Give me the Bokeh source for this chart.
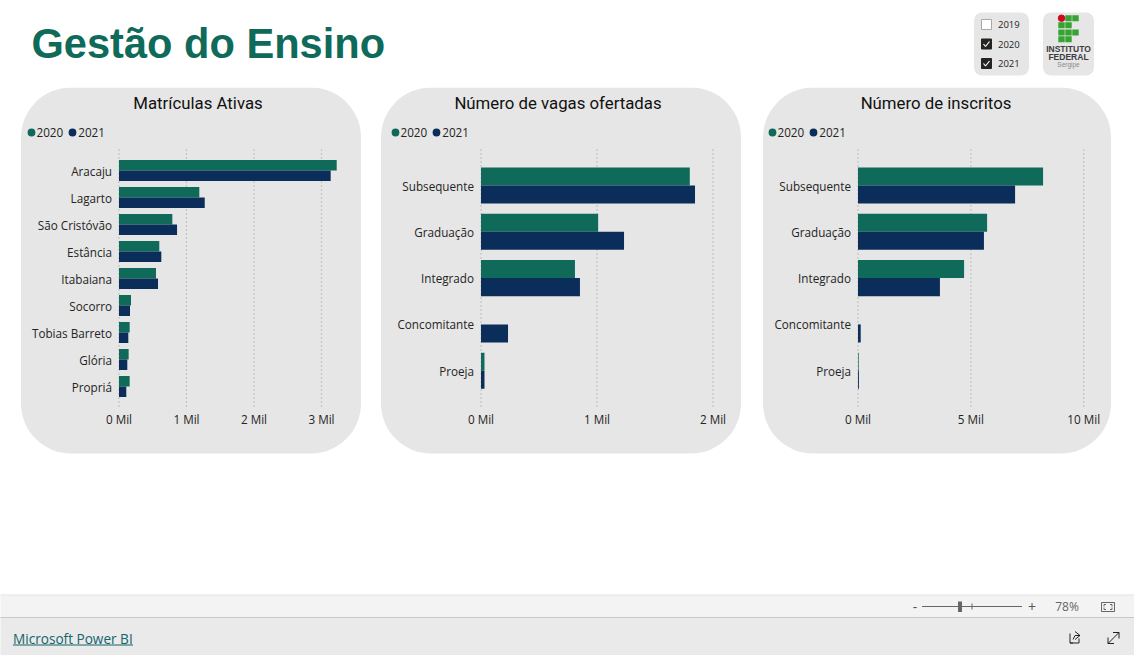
from bokeh.embed import file_html
from bokeh.resources import INLINE
from bokeh.plotting import figure
from bokeh.layouts import column, row
from bokeh.models import (BoxAnnotation, ColumnDataSource, FixedTicker, Label, Legend,
                          LegendItem, PrintfTickFormatter, Range1d)

TITLE = "Gestão do Ensino"
YEARS = ["2020", "2021"]
GREEN = "#0f6a5a"
NAVY = "#0a2d5a"
PANEL = "#e6e6e6"
TEXT = "#252423"

panel1_title = "Matrículas Ativas"
panel1_cats = ["Aracaju", "Lagarto", "São Cristóvão", "Estância", "Itabaiana", "Socorro", "Tobias Barreto", "Glória", "Propriá"]
panel1_2020 = [3.225, 1.19, 0.79, 0.597, 0.548, 0.178, 0.158, 0.143, 0.158]
panel1_2021 = [3.136, 1.27, 0.86, 0.627, 0.578, 0.163, 0.138, 0.123, 0.108]
panel1_ticks = [0, 1, 2, 3]

panel2_title = "Número de vagas ofertadas"
panel2_cats = ["Subsequente", "Graduação", "Integrado", "Concomitante", "Proeja"]
panel2_2020 = [1.80, 1.01, 0.81, 0.0, 0.03]
panel2_2021 = [1.845, 1.233, 0.853, 0.233, 0.03]
panel2_ticks = [0, 1, 2]

panel3_title = "Número de inscritos"
panel3_cats = ["Subsequente", "Graduação", "Integrado", "Concomitante", "Proeja"]
panel3_2020 = [8.2, 5.72, 4.70, 0.0, 0.03]
panel3_2021 = [6.96, 5.58, 3.63, 0.12, 0.04]
panel3_ticks = [0, 5, 10]

OFFX = 0.5
PANEL_TOP, PANEL_BOTTOM = 88, 456
GRID_TOP, GRID_BOTTOM = 150, 408


def panel(title, cats, v20, v21, ticks, fig_x, fig_w, box, zero_px, px_per_unit, first_cy, step, legend_x, title_cx):
    idx = list(range(len(cats)))
    x0 = fig_x + OFFX
    y_top = PANEL_TOP
    y_bot = PANEL_BOTTOM
    p = figure(width=fig_w, height=PANEL_BOTTOM - PANEL_TOP, output_backend="svg", toolbar_location=None,
               x_range=Range1d((x0 - zero_px) / px_per_unit, (x0 + fig_w - zero_px) / px_per_unit),
               y_range=Range1d((y_bot - first_cy) / step, (y_top - first_cy) / step),
               min_border=0, outline_line_color=None, border_fill_color="white", background_fill_color="white")
    p.extra_y_ranges = {"px": Range1d(y_bot, y_top)}
    p.add_layout(BoxAnnotation(left=box[0] - x0, right=box[1] - x0, top=0, bottom=366,
                               left_units="canvas", right_units="canvas", top_units="canvas", bottom_units="canvas",
                               fill_color=PANEL, fill_alpha=1, line_color=None, border_radius=50, level="image"))
    p.grid.visible = False
    p.segment(x0=ticks, x1=ticks, y0=[GRID_TOP] * len(ticks), y1=[GRID_BOTTOM] * len(ticks), y_range_name="px",
              line_color="#a4a4a4", line_dash="1 3", line_width=1.2)
    src = ColumnDataSource(dict(i20=[i - 0.195 for i in idx], i21=[i + 0.195 for i in idx], y2020=v20, y2021=v21))
    p.hbar(y="i20", right="y2020", left=0, height=0.39, source=src, fill_color=GREEN, line_color=None)
    p.hbar(y="i21", right="y2021", left=0, height=0.39, source=src, fill_color=NAVY, line_color=None)
    ax = p.xaxis[0]
    ax.ticker = FixedTicker(ticks=ticks)
    ax.formatter = PrintfTickFormatter(format="%d Mil")
    ax.fixed_location = (GRID_BOTTOM - first_cy) / step
    ay = p.yaxis[0]
    ay.ticker = FixedTicker(ticks=idx)
    ay.major_label_overrides = dict(zip(idx, cats))
    ay.fixed_location = 0
    for a in (ax, ay):
        a.axis_line_color = None
        a.major_tick_line_color = None
        a.minor_tick_line_color = None
        a.major_tick_out = 0
        a.major_tick_in = 0
        a.major_label_text_font = "Open Sans"
        a.major_label_text_font_size = "11.7px"
        a.major_label_text_color = TEXT
    ax.major_label_standoff = 3
    ay.major_label_standoff = 7
    d1 = p.scatter(x=[float("nan")], y=[0], size=5, fill_color=GREEN, line_color=GREEN, line_width=3)
    d2 = p.scatter(x=[float("nan")], y=[0], size=5, fill_color=NAVY, line_color=NAVY, line_width=3)
    leg = Legend(items=[LegendItem(label=YEARS[0], renderers=[d1]), LegendItem(label=YEARS[1], renderers=[d2])],
                 orientation="horizontal", location=(legend_x - x0, y_bot - 141),
                 background_fill_alpha=0, border_line_color=None, padding=0, margin=0, spacing=3,
                 glyph_width=12, glyph_height=12, label_standoff=0,
                 label_text_font="Open Sans", label_text_font_size="11.7px", label_text_color=TEXT)
    p.add_layout(leg, "center")
    p.add_layout(Label(x=title_cx - x0, y=15, x_units="canvas", y_units="canvas", text=title, text_align="center",
                       text_baseline="middle", text_font="Roboto", text_font_size="16.8px", text_color="#111111"))
    return p


def chrome(x0, x1, y0, y1):
    p = figure(width=x1 - x0, height=y1 - y0, output_backend="svg", toolbar_location=None,
               x_range=Range1d(x0 + OFFX, x1 + OFFX), y_range=Range1d(y1, y0), x_axis_type=None, y_axis_type=None,
               min_border=0, outline_line_color=None, border_fill_color="white", background_fill_color="white")
    p.grid.visible = False
    return p


def rbox(p, l, r, t, b, color, radius):
    p.add_layout(BoxAnnotation(left=l, right=r, top=t, bottom=b, fill_color=color, fill_alpha=1, line_color=None,
                               border_radius=radius, level="image"))


# ---- header ----
head = chrome(0, 1134, 1, 88)
head.text(x=[31.5], y=[44], text=[TITLE], text_font={"value": "Liberation Sans"}, text_font_style="bold", text_font_size="41.6px",
          text_color=GREEN, text_baseline="middle")
rbox(head, 974, 1029, 13, 76, PANEL, 8)
rbox(head, 1043, 1094, 13, 76, PANEL, 8)
slicer_years = ["2019", "2020", "2021"]
slicer_on = [False, True, True]
slicer_y = [25, 44.5, 64]
for yr, on, yy in zip(slicer_years, slicer_on, slicer_y):
    head.quad(left=[981.5], right=[991.5], top=[yy - 5], bottom=[yy + 5], fill_color=TEXT if on else "white",
              line_color=TEXT if on else "#a8a8a8", line_width=1)
    if on:
        head.line(x=[983.5, 985.5, 989.5], y=[yy, yy + 2.5, yy - 2.5], line_color="white", line_width=1.2)
    head.text(x=[998], y=[yy], text=[yr], text_font={"value": "Open Sans"}, text_font_size="9.5px", text_color=TEXT,
              text_baseline="middle")
logo_x = [1058.3, 1065.3, 1072.3]
logo_y = [15.7, 22.7, 30, 36.7]
logo_cells = [(1, 0), (2, 0), (0, 1), (1, 1), (0, 2), (1, 2), (2, 2), (0, 3), (1, 3)]
head.quad(left=[logo_x[c] for c, r in logo_cells], right=[logo_x[c] + 6.4 for c, r in logo_cells],
          top=[logo_y[r] for c, r in logo_cells], bottom=[logo_y[r] + 6 for c, r in logo_cells],
          fill_color="#36a332", line_color=None)
head.scatter(x=[1061.5], y=[18.7], size=6.5, color="#cc0b20")
for txt, yy, sz, col, st in [("INSTITUTO", 49.5, "8.5px", "#3c3c3c", "bold"), ("FEDERAL", 57, "8.5px", "#3c3c3c", "bold"),
                             ("Sergipe", 64.5, "6.5px", "#8a8a8a", "normal")]:
    head.text(x=[1068.5], y=[yy], text=[txt], text_font={"value": "Liberation Sans"}, text_font_size=sz, text_font_style=st,
              text_color=col, text_align="center", text_baseline="middle")

# ---- panels ----
f1 = panel(panel1_title, panel1_cats, panel1_2020, panel1_2021, panel1_ticks, 0, 370, (21, 361), 119, 67.5, 171, 27, 25, 198)
f2 = panel(panel2_title, panel2_cats, panel2_2020, panel2_2021, panel2_ticks, 370, 381, (381, 741), 481, 116, 186, 46.3, 389, 558)
f3 = panel(panel3_title, panel3_cats, panel3_2020, panel3_2021, panel3_ticks, 751, 383, (763, 1111), 858, 22.57, 186, 46.3, 766, 936)

# ---- footer ----
foot = chrome(0, 1134, 456, 656)
foot.quad(left=[0], right=[1136], top=[596], bottom=[618], fill_color="#f3f3f3", line_color=None)
foot.quad(left=[0], right=[1136], top=[618], bottom=[656], fill_color="#eaeaea", line_color=None)
foot.line(x=[0, 1136], y=[595.5, 595.5], line_color="#e0e0e0", line_width=1)
foot.line(x=[0, 1136], y=[618, 618], line_color="#c8c8c8", line_width=1)
foot.text(x=[13], y=[639], text=["Microsoft Power BI"], text_font={"value": "Open Sans"}, text_font_style="normal", text_font_size="13.6px",
          text_color="#14656a", text_baseline="middle")
foot.line(x=[13, 133], y=[645.5, 645.5], line_color="#14656a", line_width=1)
foot.line(x=[922, 1022], y=[607, 607], line_color="#666666", line_width=1)
foot.line(x=[972, 972], y=[604, 610], line_color="#666666", line_width=1)
foot.quad(left=[958], right=[962], top=[602], bottom=[612.5], fill_color="#666666", line_color=None)
foot.text(x=[915, 1032], y=[607, 607], text=["-", "+"], text_font={"value": "Open Sans"}, text_font_size="14px", text_color="#555555",
          text_align="center", text_baseline="middle")
foot.text(x=[1067], y=[607], text=["78%"], text_font={"value": "Open Sans"}, text_font_size="12px", text_color="#666666",
          text_align="center", text_baseline="middle")
foot.quad(left=[1101.5], right=[1114.5], top=[603], bottom=[612], fill_color=None, line_color="#666666", line_width=1)
foot.multi_line(xs=[[1104, 1104, 1106], [1112, 1112, 1110], [1104, 1104, 1106], [1112, 1112, 1110]],
                ys=[[607, 605, 605], [607, 605, 605], [608, 610, 610], [608, 610, 610]], line_color="#666666", line_width=1)
foot.multi_line(xs=[[1070, 1070, 1073], [1070, 1079, 1079], [1075, 1080, 1075], [1080, 1075, 1073]],
                ys=[[634, 643.5, 643.5], [643.5, 643.5, 639], [632, 636, 640], [636, 636, 640]],
                line_color="#222222", line_width=1)
foot.multi_line(xs=[[1108, 1119], [1113, 1119, 1119], [1108, 1108, 1114]],
                ys=[[644, 633], [633, 633, 639], [638, 644, 644]], line_color="#222222", line_width=1)

layout = column(head, row(f1, f2, f3, spacing=0), foot, spacing=0)
open("out.html", "w").write(file_html(layout, INLINE))
